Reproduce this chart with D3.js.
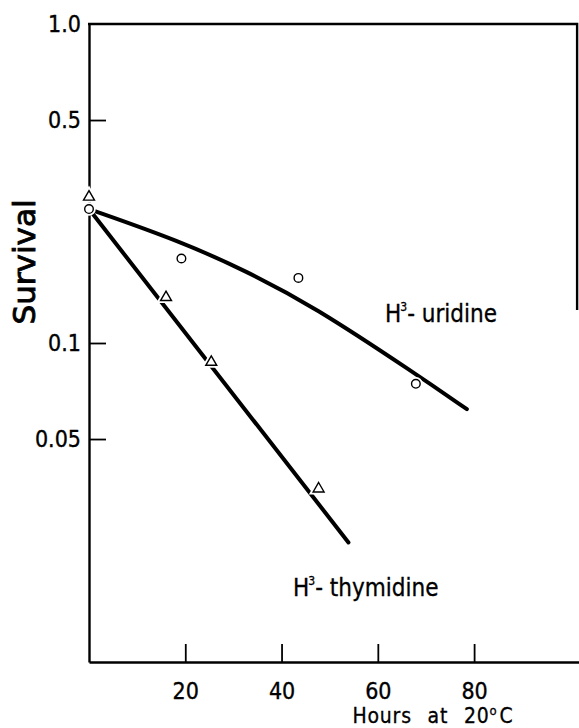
<!DOCTYPE html>
<html>
<head>
<meta charset="utf-8">
<script src="https://cdn.jsdelivr.net/npm/d3@7"></script>
<style>
  body { margin: 0; background: #fff; }
  svg { display: block; }
  .tick text { font-family: "DejaVu Sans Condensed", "DejaVu Sans", sans-serif; }
</style>
</head>
<body>
<svg id="chart" width="579" height="728"></svg>
<script>
// survival vs hours
var uridineHours = [0, 19.2, 43.5, 67.9];
var uridineSurvival = [0.263, 0.184, 0.160, 0.0745];

var thymidineHours = [0, 16.0, 25.4, 47.7];
var thymidineSurvival = [0.287, 0.139, 0.0871, 0.0349];

// hand-drawn fitted curves
var uridineFitHours = [0, 18.8, 32.7, 46.4, 67.9, 78.5];
var uridineFitSurvival = [0.263, 0.209, 0.168, 0.131, 0.080, 0.062];

var thymidineFitHours = [0, 53.9];
var thymidineFitSurvival = [0.263, 0.0237];

var xTicks = [20, 40, 60, 80];
var yTicks = [0.05, 0.1, 0.5, 1.0];
var yTickLabels = ["0.05", "0.1", "0.5", "1.0"];

var svg = d3.select("#chart");
var font = '"DejaVu Sans Condensed", "DejaVu Sans", sans-serif';

var x = d3.scaleLinear().domain([0, 102]).range([89, 580]);
var y = d3.scaleLog().domain([0.01, 1]).range([662, 24]);

var zip = function(xs, ys) {
	return xs.map(function(d, i) { return [d, ys[i]]; });
};

// axes, ticks pointing inward
var yAxis = d3.axisLeft(y)
	.tickValues(yTicks)
	.tickFormat(function(d, i) { return yTickLabels[i]; })
	.tickSizeInner(-17)
	.tickSizeOuter(0)
	.tickPadding(8);

var xAxis = d3.axisBottom(x)
	.tickValues(xTicks)
	.tickFormat(d3.format("d"))
	.tickSizeInner(-18)
	.tickSizeOuter(0)
	.tickPadding(21);

var gy = svg.append("g").attr("transform", "translate(" + x(0) + ",0)").call(yAxis);
var gx = svg.append("g").attr("transform", "translate(0," + y(0.01) + ")").call(xAxis);

[gx, gy].forEach(function(g) {
	g.select(".domain").attr("stroke", "#000").attr("stroke-width", 2.4);
	g.selectAll(".tick line").attr("stroke", "#000").attr("stroke-width", 1.8);
	g.selectAll(".tick text").attr("fill", "#000").attr("font-size", 23)
		.attr("stroke", "#000").attr("stroke-width", 0.35);
});
gy.selectAll(".tick").filter(function(d) { return d == 1; }).select("line").remove();

// top and partial right border of the frame
svg.append("path")
	.attr("d", d3.line()([[x(0) - 1, y(1)], [x(101.4), y(1)], [x(101.4), y(0.127)]]))
	.attr("fill", "none")
	.attr("stroke", "#000")
	.attr("stroke-width", 2.4);

// fitted lines
var line = d3.line()
	.x(function(d) { return x(d[0]); })
	.y(function(d) { return y(d[1]); })
	.curve(d3.curveBasis);

svg.append("path")
	.datum(zip(uridineFitHours, uridineFitSurvival))
	.attr("d", line)
	.attr("fill", "none")
	.attr("stroke", "#000")
	.attr("stroke-width", 4)
	.attr("stroke-linecap", "round");

svg.append("path")
	.datum(zip(thymidineFitHours, thymidineFitSurvival))
	.attr("d", line)
	.attr("fill", "none")
	.attr("stroke", "#000")
	.attr("stroke-width", 4)
	.attr("stroke-linecap", "round");

// markers, with a white halo so the lines break around them
var tri = d3.symbol().type(d3.symbolTriangle).size(52);
var thymPts = zip(thymidineHours, thymidineSurvival);
var uriPts = zip(uridineHours, uridineSurvival);

var drawTriangles = function(stroke, width) {
	svg.append("g").selectAll("path").data(thymPts).enter().append("path")
		.attr("d", tri)
		.attr("transform", function(d) { return "translate(" + x(d[0]) + "," + y(d[1]) + ")"; })
		.attr("fill", "#fff")
		.attr("stroke", stroke)
		.attr("stroke-width", width);
};
var drawCircles = function(stroke, width) {
	svg.append("g").selectAll("circle").data(uriPts).enter().append("circle")
		.attr("cx", function(d) { return x(d[0]); })
		.attr("cy", function(d) { return y(d[1]); })
		.attr("r", 4.3)
		.attr("fill", "#fff")
		.attr("stroke", stroke)
		.attr("stroke-width", width);
};
drawTriangles("#fff", 5);
drawCircles("#fff", 5);
drawTriangles("#000", 1.4);
drawCircles("#000", 1.4);

// axis titles
svg.append("text")
	.attr("transform", "translate(35," + 262 + ") rotate(-90)")
	.attr("text-anchor", "middle")
	.attr("font-family", '"DejaVu Sans", sans-serif')
	.attr("font-size", 31)
	.attr("fill", "#000")
	.attr("stroke", "#000")
	.attr("stroke-width", 0.9)
	.text("Survival");

var hoursLabel = svg.append("text")
	.attr("x", 433)
	.attr("y", 723)
	.attr("text-anchor", "middle")
	.attr("font-family", font)
	.attr("font-size", 21)
	.attr("word-spacing", 9)
	.attr("letter-spacing", 0.8)
	.attr("fill", "#000")
	.attr("stroke", "#000")
	.attr("stroke-width", 0.3);
hoursLabel.append("tspan").text("Hours at 20");
hoursLabel.append("tspan").attr("font-size", 13).attr("dy", -8).text("o");
hoursLabel.append("tspan").attr("dy", 8).attr("dx", 2).text("C");

// curve labels
var curveLabel = function(px, py, name) {
	var t = svg.append("text")
		.attr("x", px)
		.attr("y", py)
		.attr("font-family", font)
		.attr("font-size", 24)
		.attr("fill", "#000")
		.attr("stroke", "#000")
		.attr("stroke-width", 0.3);
	t.append("tspan").text("H");
	t.append("tspan").attr("font-size", 12).attr("dy", -11).attr("dx", -1).text("3");
	t.append("tspan").attr("dy", 11).text("- " + name);
};
curveLabel(385, 322, "uridine");
curveLabel(293, 596, "thymidine");
</script>
</body>
</html>
